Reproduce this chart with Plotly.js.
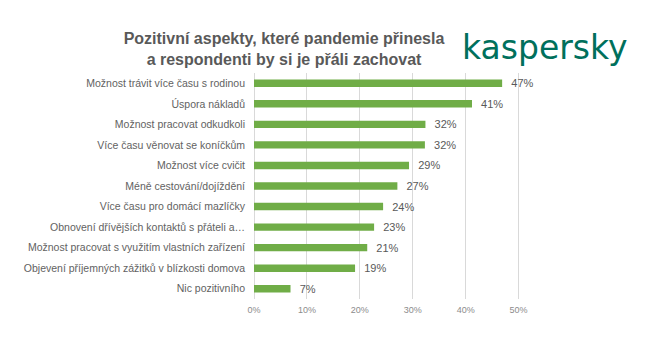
<!DOCTYPE html>
<html>
<head>
<meta charset="utf-8">
<script src="https://cdn.plot.ly/plotly-3.0.1.min.js"></script>
<style>html,body{margin:0;padding:0;background:#fff;}#chart{width:650px;height:343px;}</style>
</head>
<body>
<div id="chart"></div>
<script>
const categories = [
  "Možnost trávit více času s rodinou",
  "Úspora nákladů",
  "Možnost pracovat odkudkoli",
  "Více času věnovat se koníčkům",
  "Možnost více cvičit",
  "Méně cestování/dojíždění",
  "Více času pro domácí mazlíčky",
  "Obnovení dřívějších kontaktů s přáteli a…",
  "Možnost pracovat s využitím vlastních zařízení",
  "Objevení příjemných zážitků v blízkosti domova",
  "Nic pozitivního"
];
const values = [46.9, 41.2, 32.4, 32.3, 29.3, 27.1, 24.4, 22.7, 21.4, 19.1, 6.9];
const valueLabels = ["47%", "41%", "32%", "32%", "29%", "27%", "24%", "23%", "21%", "19%", "7%"];
const tickValues = [0, 10, 20, 30, 40, 50];
const tickLabels = ["0%", "10%", "20%", "30%", "40%", "50%"];

const trace = {
  type: "bar",
  orientation: "h",
  y: categories,
  x: values,
  text: valueLabels,
  texttemplate: "\u00a0\u00a0%{text}",
  textposition: "outside",
  constraintext: "none",
  cliponaxis: false,
  textfont: {family: "Liberation Sans, Arial, sans-serif", size: 11, color: "#595959"},
  marker: {color: "#70ad47"},
  hoverinfo: "none"
};

const layout = {
  width: 650, height: 343,
  margin: {l: 254, r: 105, t: 73, b: 44},
  paper_bgcolor: "#fff", plot_bgcolor: "#fff",
  bargap: 0.64,
  showlegend: false,
  title: {
    text: "<b>Pozitivní aspekty, které pandemie přinesla<br>a respondenti by si je přáli zachovat</b>",
    font: {family: "Liberation Sans, Arial, sans-serif", size: 16, color: "#595959"},
    x: 284/650, xref: "container", xanchor: "center", y: 0.871, yanchor: "top"
  },
  xaxis: {
    range: [0, 55],
    tickvals: tickValues, ticktext: tickLabels,
    showgrid: true, gridcolor: "#d9d9d9", gridwidth: 1,
    zeroline: true, zerolinecolor: "#d9d9d9", zerolinewidth: 1,
    showline: false, ticks: "",
    tickfont: {family: "Liberation Sans, Arial, sans-serif", size: 9, color: "#8c8c8c"},
    ticklabelstandoff: 4
  },
  yaxis: {
    autorange: "reversed",
    showgrid: false, showline: false, ticks: "", zeroline: false,
    ticklabelstandoff: 8,
    tickfont: {family: "Liberation Sans, Arial, sans-serif", size: 10.5, color: "#626262"}
  },
  annotations: [{
    text: "kaspersky",
    xref: "paper", yref: "paper",
    x: 1.29, y: 1.115, xanchor: "right", yanchor: "middle",
    showarrow: false,
    font: {family: "DejaVu Sans, sans-serif", size: 33, color: "#00705c"}
  }]
};

Plotly.newPlot("chart", [trace], layout, {displayModeBar: false, staticPlot: true});
</script>
</body>
</html>
